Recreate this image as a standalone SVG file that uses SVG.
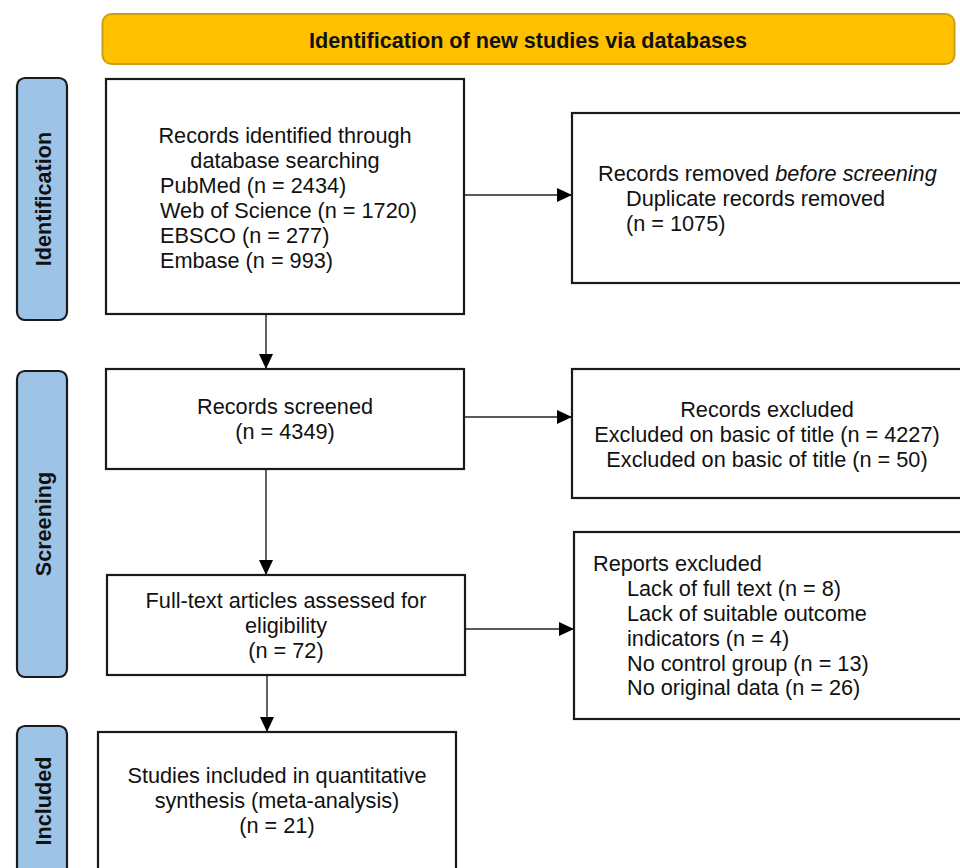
<svg xmlns="http://www.w3.org/2000/svg" width="960" height="868" viewBox="0 0 960 868">
<defs>
<style>
.box{fill:#fff;stroke:#1a1a1a;stroke-width:2.2}
.side{fill:#9DC3E6;stroke:#1a1a1a;stroke-width:2.2}
.banner{fill:#FFC000;stroke:#C9A01A;stroke-width:2}
.t{font-family:"Liberation Sans",Arial,sans-serif;font-size:21.7px;fill:#111}
.c{text-anchor:middle}
.lbl{font-family:"Liberation Sans",Arial,sans-serif;font-size:21.6px;font-weight:bold;fill:#111;text-anchor:middle}
.conn{stroke:#222;stroke-width:1.4;fill:none;marker-end:url(#arr)}
</style>
<marker id="arr" viewBox="0 0 15 14" refX="15" refY="7" markerWidth="15" markerHeight="14" markerUnits="userSpaceOnUse" orient="auto">
<path d="M0,0 L15,7 L0,14 Z" fill="#000"/>
</marker>
</defs>
<rect width="960" height="868" fill="#fff"/>

<g id="banner">
<rect class="banner" x="102.5" y="14" width="852" height="50" rx="9"/>
<text class="lbl" x="528" y="47.5">Identification of new studies via databases</text>
</g>

<g id="phase-identification">
<rect class="side" x="17" y="78" width="50" height="242" rx="8"/>
<text class="lbl" transform="translate(51,199) rotate(-90)">Identification</text>
</g>
<g id="phase-screening">
<rect class="side" x="17" y="371" width="50" height="306" rx="8"/>
<text class="lbl" transform="translate(51,524) rotate(-90)">Screening</text>
</g>
<g id="phase-included">
<rect class="side" x="17" y="726" width="50" height="160" rx="8"/>
<text class="lbl" transform="translate(51,801) rotate(-90)">Included</text>
</g>

<g id="connectors">
<line class="conn" x1="266" y1="315" x2="266" y2="369"/>
<line class="conn" x1="465" y1="195" x2="572" y2="195"/>
<line class="conn" x1="266" y1="470" x2="266" y2="575"/>
<line class="conn" x1="465" y1="417" x2="572" y2="417"/>
<line class="conn" x1="466" y1="629" x2="574" y2="629"/>
<line class="conn" x1="267" y1="676" x2="267" y2="732"/>
</g>

<g id="records-identified">
<rect class="box" x="106" y="79" width="358" height="235"/>
<text class="t c" x="285" y="143">Records identified through</text>
<text class="t c" x="285" y="168">database searching</text>
<text class="t" x="160" y="193">PubMed (n = 2434)</text>
<text class="t" x="160" y="218">Web of Science (n = 1720)</text>
<text class="t" x="160" y="243">EBSCO (n = 277)</text>
<text class="t" x="160" y="268">Embase (n = 993)</text>
</g>

<g id="records-removed">
<rect class="box" x="572" y="113" width="395" height="170"/>
<text class="t" x="598" y="181">Records removed <tspan font-style="italic">before screening</tspan></text>
<text class="t" x="626" y="206">Duplicate records removed</text>
<text class="t" x="626" y="231">(n = 1075)</text>
</g>

<g id="records-screened">
<rect class="box" x="106" y="369" width="358" height="100"/>
<text class="t c" x="285" y="414">Records screened</text>
<text class="t c" x="285" y="439">(n = 4349)</text>
</g>

<g id="records-excluded">
<rect class="box" x="572" y="369" width="395" height="129"/>
<text class="t c" x="767" y="417">Records excluded</text>
<text class="t c" x="767" y="442">Excluded on basic of title (n = 4227)</text>
<text class="t c" x="767" y="467">Excluded on basic of title (n = 50)</text>
</g>

<g id="full-text">
<rect class="box" x="107" y="575" width="358" height="100"/>
<text class="t c" x="286" y="608">Full-text articles assessed for</text>
<text class="t c" x="286" y="633">eligibility</text>
<text class="t c" x="286" y="658">(n = 72)</text>
</g>

<g id="reports-excluded">
<rect class="box" x="574" y="532" width="395" height="187"/>
<text class="t" x="593" y="571">Reports excluded</text>
<text class="t" x="627" y="596">Lack of full text (n = 8)</text>
<text class="t" x="627" y="621">Lack of suitable outcome</text>
<text class="t" x="627" y="646">indicators (n = 4)</text>
<text class="t" x="627" y="671">No control group (n = 13)</text>
<text class="t" x="627" y="695">No original data (n = 26)</text>
</g>

<g id="studies-included">
<rect class="box" x="98" y="732" width="358" height="160"/>
<text class="t c" x="277" y="783">Studies included in quantitative</text>
<text class="t c" x="277" y="808">synthesis (meta-analysis)</text>
<text class="t c" x="277" y="833">(n = 21)</text>
</g>
</svg>
